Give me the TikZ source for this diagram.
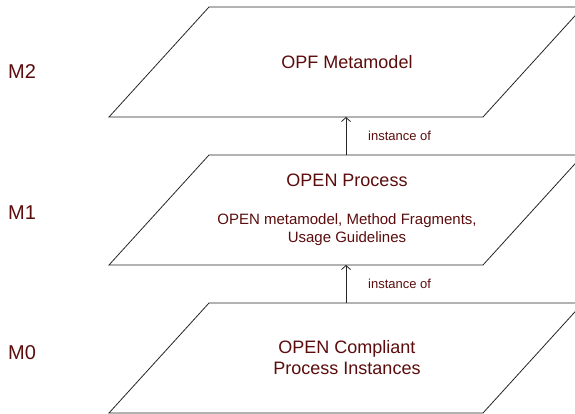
\documentclass[tikz,border=0pt]{standalone}
\usepackage{fontspec}
\setmainfont{Liberation Sans}
\usetikzlibrary{arrows.meta}
\definecolor{txt}{RGB}{92,12,12}
\begin{document}
\begin{tikzpicture}[x=1pt,y=-1pt,
  plane/.style={draw=black!85, line width=0.8pt, fill=white},
  title/.style={text=txt, font=\fontsize{18}{21}\selectfont, align=center, inner sep=0},
  sub/.style={text=txt, font=\fontsize{15}{18}\selectfont, align=center, inner sep=0},
  lvl/.style={text=txt, font=\fontsize{20}{24}\selectfont, anchor=west, inner sep=0},
  inst/.style={text=txt, font=\fontsize{13}{15}\selectfont, anchor=west, inner sep=0},
  conn/.style={draw=black!85, line width=0.8pt, -{Straight Barb[length=4pt,width=9pt]}}]
\useasboundingbox (0,0) rectangle (575,414);
% planes
\draw[plane] (109,117) -- (209,7) -- (583,7) -- (483,117) -- cycle;
\draw[plane] (109,265) -- (209,155) -- (583,155) -- (483,265) -- cycle;
\draw[plane] (109,413) -- (209,303) -- (583,303) -- (483,413) -- cycle;
\coordinate (m2b) at (346,117);
\coordinate (m1t) at (346,155);
\coordinate (m1b) at (346,265);
\coordinate (m0t) at (346,303);
% texts
\node[title] (opf) at (347,62) {OPF Metamodel};
\node[title] (open) at (347,180) {OPEN Process};
\node[sub] (frag) at (347,230) {OPEN metamodel, Method Fragments,\\Usage Guidelines};
\node[title] (inst) at (347,358) {OPEN Compliant\\Process Instances};
\node[lvl] (M2) at (8,72) {M2};
\node[lvl] (M1) at (8,213) {M1};
\node[lvl] (M0) at (8,353) {M0};
% connectors
\draw[conn] (m1t) -- (m2b);
\draw[conn] (m0t) -- (m1b);
\node[inst] (i1) at (368,136) {instance of};
\node[inst] (i2) at (368,284) {instance of};
\end{tikzpicture}
\end{document}
